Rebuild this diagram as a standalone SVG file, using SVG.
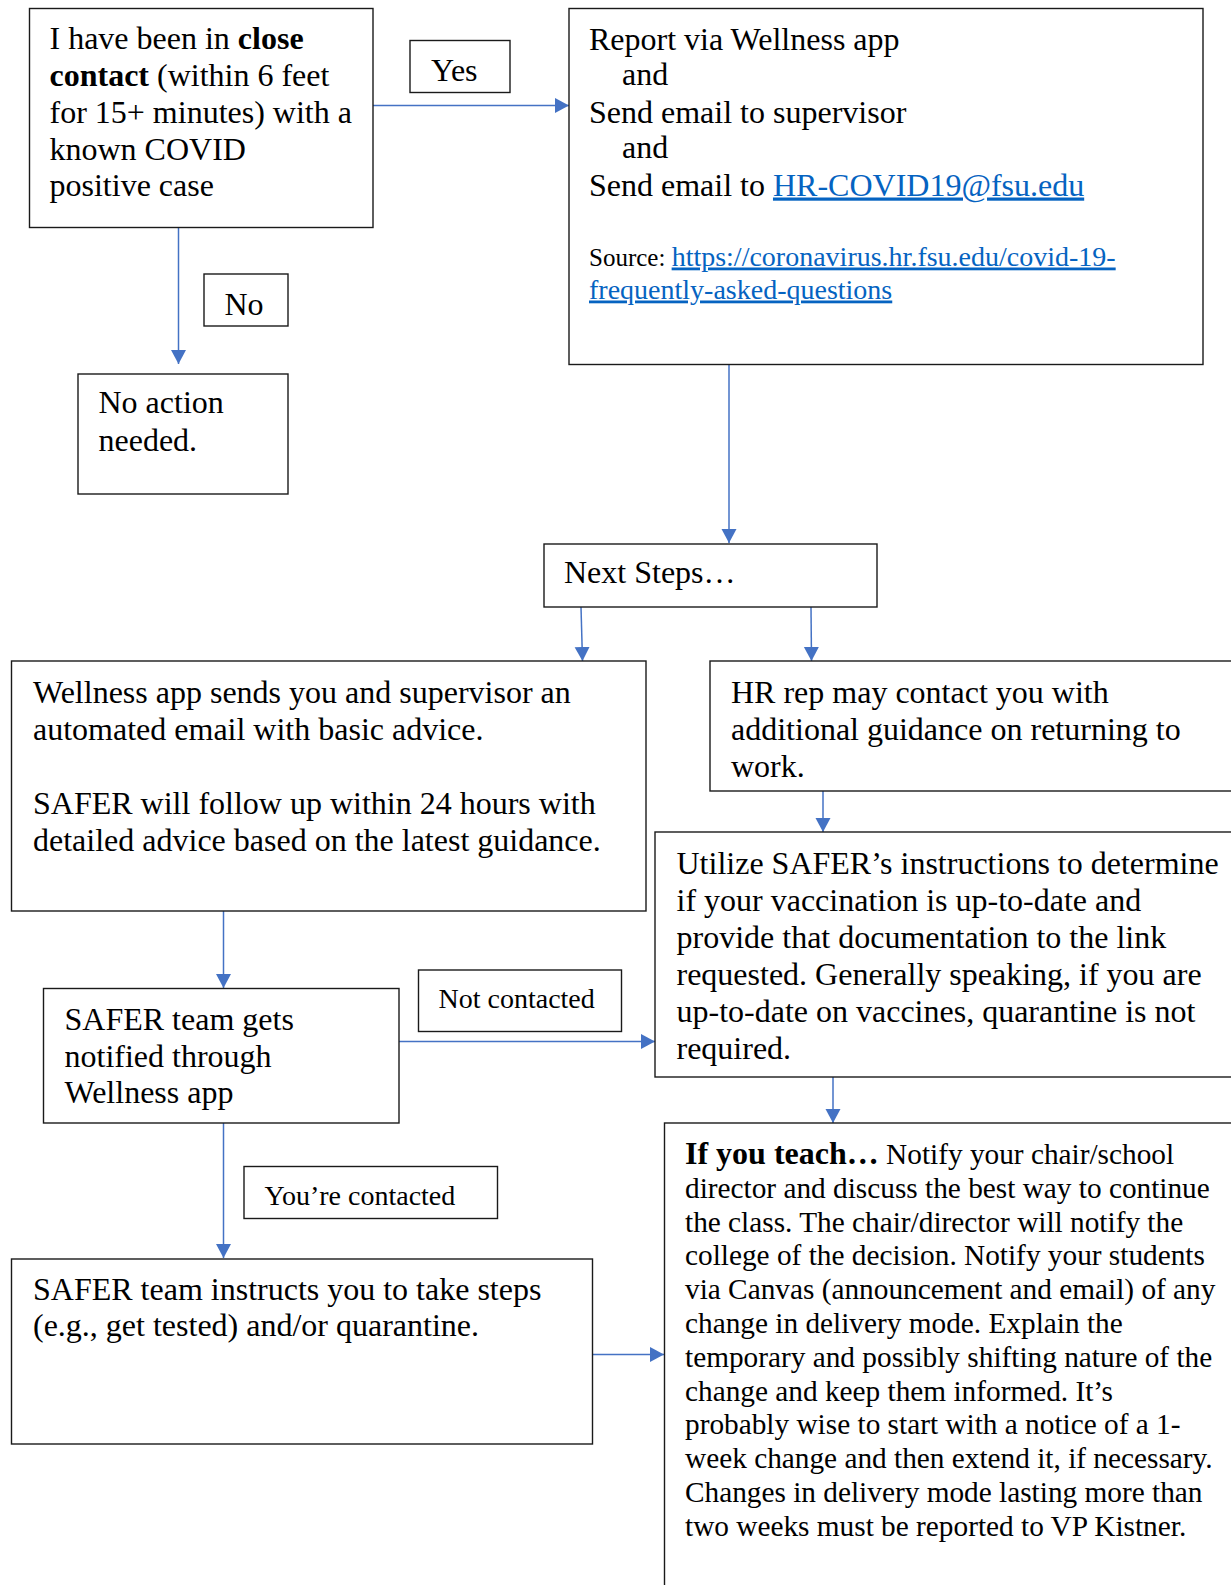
<svg xmlns="http://www.w3.org/2000/svg" width="1231" height="1585" viewBox="0 0 1231 1585">
<style>
.box{fill:#fff;stroke:#1a1a1a;stroke-width:1.4}
.t{font-family:"Liberation Serif","Times New Roman",serif;font-size:32px;fill:#000}
.s{font-size:28px}
.m{font-size:29.3px}
.b{font-weight:bold}
.lk{fill:#0563C1;text-decoration:underline}
.c{stroke:#4472C4;stroke-width:1.5;fill:none;marker-end:url(#ah)}
</style>
<defs>
<marker id="ah" markerUnits="userSpaceOnUse" markerWidth="16" markerHeight="16" refX="14" refY="7.5" orient="auto">
<path d="M0,0 L14,7.5 L0,15 z" fill="#4472C4"/>
</marker>
</defs>
<rect width="1231" height="1585" fill="#fff"/>
<g id="connectors">
<line class="c" x1="373" y1="105.5" x2="569" y2="105.5"/>
<line class="c" x1="178.5" y1="227" x2="178.5" y2="364"/>
<line class="c" x1="729" y1="365" x2="729" y2="543"/>
<line class="c" x1="581" y1="607" x2="582.5" y2="661"/>
<line class="c" x1="811" y1="607" x2="811.5" y2="661"/>
<line class="c" x1="223.5" y1="911" x2="223.5" y2="988"/>
<line class="c" x1="223.5" y1="1123" x2="223.5" y2="1258"/>
<line class="c" x1="399" y1="1041.5" x2="655" y2="1041.5"/>
<line class="c" x1="823" y1="791" x2="823" y2="832"/>
<line class="c" x1="833" y1="1077" x2="833" y2="1123"/>
<line class="c" x1="592" y1="1354.5" x2="664" y2="1354.5"/>
</g>
<g id="n-close-contact">
<rect class="box" x="29.5" y="8.5" width="343.5" height="219"/>
<text class="t" x="49.5" y="49">I have been in <tspan class="b">close</tspan></text>
<text class="t" x="49.5" y="86"><tspan class="b">contact</tspan> (within 6 feet</text>
<text class="t" x="49.5" y="123">for 15+ minutes) with a</text>
<text class="t" x="49.5" y="159.5">known COVID</text>
<text class="t" x="49.5" y="196">positive case</text>
</g>
<g id="l-yes">
<rect class="box" x="410" y="40.5" width="100" height="52"/>
<text class="t" x="431" y="81">Yes</text>
</g>
<g id="l-no">
<rect class="box" x="204" y="274" width="84" height="52"/>
<text class="t" x="224.5" y="315">No</text>
</g>
<g id="n-no-action">
<rect class="box" x="78" y="374" width="210" height="120"/>
<text class="t" x="98.5" y="413">No action</text>
<text class="t" x="98.5" y="450.5">needed.</text>
</g>
<g id="n-report">
<rect class="box" x="569" y="8.5" width="634" height="356"/>
<text class="t" x="589" y="49.5">Report via Wellness app</text>
<text class="t" x="622" y="85">and</text>
<text class="t" x="589" y="122.5">Send email to supervisor</text>
<text class="t" x="622" y="158">and</text>
<text class="t" x="589" y="195.5">Send email to <tspan class="lk">HR-COVID19@fsu.edu</tspan></text>
<text class="t" x="589" y="265.5"><tspan style="font-size:25px">Source: </tspan><tspan class="s lk">https://coronavirus.hr.fsu.edu/covid-19-</tspan></text>
<text class="t s lk" x="589" y="298.5">frequently-asked-questions</text>
</g>
<g id="n-next">
<rect class="box" x="544" y="544" width="333" height="63"/>
<text class="t" x="564" y="583">Next Steps…</text>
</g>
<g id="n-wellness">
<rect class="box" x="11.5" y="661" width="634.5" height="250"/>
<text class="t" x="33" y="703">Wellness app sends you and supervisor an</text>
<text class="t" x="33" y="740">automated email with basic advice.</text>
<text class="t" x="33" y="814">SAFER will follow up within 24 hours with</text>
<text class="t" x="33" y="850.5">detailed advice based on the latest guidance.</text>
</g>
<g id="n-hr">
<rect class="box" x="710" y="661" width="530" height="130"/>
<text class="t" x="731" y="702.5">HR rep may contact you with</text>
<text class="t" x="731" y="739.5">additional guidance on returning to</text>
<text class="t" x="731" y="776.5">work.</text>
</g>
<g id="n-utilize">
<rect class="box" x="655" y="832" width="585" height="245"/>
<text class="t" x="676.5" y="873.5">Utilize SAFER’s instructions to determine</text>
<text class="t" x="676.5" y="910.5">if your vaccination is up-to-date and</text>
<text class="t" x="676.5" y="947.5">provide that documentation to the link</text>
<text class="t" x="676.5" y="984.5">requested. Generally speaking, if you are</text>
<text class="t" x="676.5" y="1021.5">up-to-date on vaccines, quarantine is not</text>
<text class="t" x="676.5" y="1058.5">required.</text>
</g>
<g id="n-safer-notified">
<rect class="box" x="43.5" y="988.5" width="355.5" height="134.5"/>
<text class="t" x="64.5" y="1030">SAFER team gets</text>
<text class="t" x="64.5" y="1066.5">notified through</text>
<text class="t" x="64.5" y="1103">Wellness app</text>
</g>
<g id="l-not-contacted">
<rect class="box" x="418.5" y="970" width="203" height="61.5"/>
<text class="t s" x="438.5" y="1007.5">Not contacted</text>
</g>
<g id="l-contacted">
<rect class="box" x="244" y="1166.5" width="253.5" height="52"/>
<text class="t s" x="264.5" y="1204.5">You’re contacted</text>
</g>
<g id="n-safer-instructs">
<rect class="box" x="11.5" y="1259" width="581" height="185"/>
<text class="t" x="33" y="1300">SAFER team instructs you to take steps</text>
<text class="t" x="33" y="1336">(e.g., get tested) and/or quarantine.</text>
</g>
<g id="n-teach">
<rect class="box" x="664.5" y="1123" width="580" height="480"/>
<text class="t m" x="685" y="1164"><tspan class="b" style="font-size:32px">If you teach…</tspan> Notify your chair/school</text>
<text class="t m" x="685" y="1197.8">director and discuss the best way to continue</text>
<text class="t m" x="685" y="1231.6">the class. The chair/director will notify the</text>
<text class="t m" x="685" y="1265.4">college of the decision. Notify your students</text>
<text class="t m" x="685" y="1299.2">via Canvas (announcement and email) of any</text>
<text class="t m" x="685" y="1333">change in delivery mode. Explain the</text>
<text class="t m" x="685" y="1366.8">temporary and possibly shifting nature of the</text>
<text class="t m" x="685" y="1400.6">change and keep them informed. It’s</text>
<text class="t m" x="685" y="1434.4">probably wise to start with a notice of a 1-</text>
<text class="t m" x="685" y="1468.2">week change and then extend it, if necessary.</text>
<text class="t m" x="685" y="1502">Changes in delivery mode lasting more than</text>
<text class="t m" x="685" y="1535.8">two weeks must be reported to VP Kistner.</text>
</g>
</svg>
